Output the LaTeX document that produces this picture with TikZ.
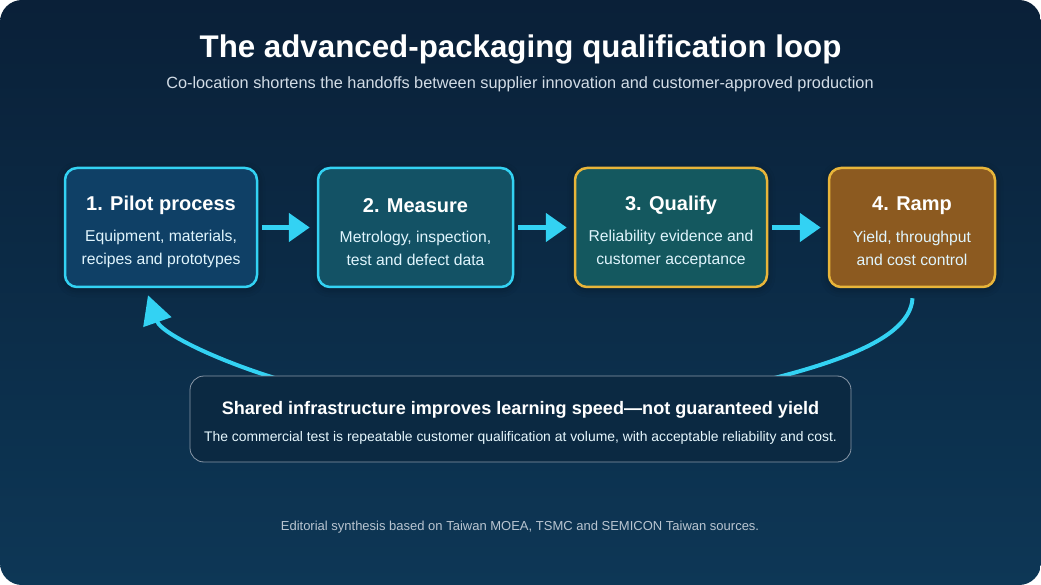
\documentclass[tikz,border=0pt]{standalone}
\usepackage{fontspec}
\setmainfont{Liberation Sans}
\usetikzlibrary{arrows.meta,shadows.blur}
\definecolor{bgtop}{HTML}{0A2038}
\definecolor{bgbot}{HTML}{0D3756}
\definecolor{cyanline}{HTML}{33D2F3}
\definecolor{goldline}{HTML}{E8B53A}
\definecolor{fillA}{HTML}{0F4066}
\definecolor{fillB}{HTML}{135265}
\definecolor{fillC}{HTML}{14585F}
\definecolor{fillD}{HTML}{8C5A20}
\definecolor{subgray}{HTML}{D2DCE6}
\definecolor{footgray}{HTML}{B9C5D1}
\definecolor{notefill}{HTML}{0B2942}
\definecolor{noteline}{HTML}{8A98A8}
\begin{document}
\begin{tikzpicture}[x=1pt,y=-1pt,
  stepbox/.style={rounded corners=12pt, line width=2.5pt, minimum height=119pt, inner sep=0pt,
    blur shadow={shadow xshift=0pt, shadow yshift=-2pt, shadow blur radius=8pt, shadow opacity=35}},
  btitle/.style={text=white, font=\fontsize{20}{24}\selectfont\bfseries},
  bbody/.style={text=white!88!cyan, align=center, font=\fontsize{15.7}{23}\selectfont},
  flow/.style={draw=cyanline, line width=5pt, -{Triangle[length=21pt,width=28pt]}},
  loopflow/.style={draw=cyanline, line width=4pt, -{Triangle[length=28.5pt,width=29pt]}}
]
\useasboundingbox (0,0) rectangle (1041,585);
\fill[white] (0,0) rectangle (1041,585);
\shade[top color=bgtop, bottom color=bgbot, rounded corners=22pt] (0,0) rectangle (1041,585);

\node[text=white, font=\fontsize{31.3}{34}\selectfont\bfseries] (title) at (520.5,49) {The advanced-packaging qualification loop};
\node[text=subgray, font=\fontsize{16.3}{19}\selectfont] (sub) at (520,84) {Co-location shortens the handoffs between supplier innovation and customer-approved production};

\node[stepbox, draw=cyanline, fill=fillA, minimum width=192pt] (b1) at (161,227.5) {};
\node[stepbox, draw=cyanline, fill=fillB, minimum width=195pt] (b2) at (415.5,227.5) {};
\node[stepbox, draw=goldline, fill=fillC, minimum width=192pt] (b3) at (671,227.5) {};
\node[stepbox, draw=goldline, fill=fillD, minimum width=166pt] (b4) at (912,227.5) {};

\node[btitle] (t1) at ([yshift=22pt]b1.center) {1. Pilot process};
\node[btitle] (t2) at ([yshift=22pt]b2.center) {2. Measure};
\node[btitle] (t3) at ([yshift=22pt]b3.center) {3. Qualify};
\node[btitle] (t4) at ([yshift=22pt]b4.center) {4. Ramp};

\node[bbody] (d1) at ([yshift=-21pt]b1.center) {Equipment, materials,\\recipes and prototypes};
\node[bbody] (d2) at ([yshift=-21pt]b2.center) {Metrology, inspection,\\test and defect data};
\node[bbody] (d3) at ([yshift=-21pt]b3.center) {Reliability evidence and\\customer acceptance};
\node[bbody] (d4) at ([yshift=-21pt]b4.center) {Yield, throughput\\and cost control};

\draw[flow] ([xshift=4pt]b1.east) -- ([xshift=-7pt]b2.west);
\draw[flow] ([xshift=4pt]b2.east) -- ([xshift=-7pt]b3.west);
\draw[flow] ([xshift=4pt]b3.east) -- ([xshift=-7pt]b4.west);

\coordinate (ls) at ([xshift=0.5pt,yshift=-10pt]b4.south);
\coordinate (le) at ([xshift=-13pt,yshift=-7pt]b1.south);
\draw[loopflow] (ls) .. controls (910,345) and (810,372) .. (700,395)
  .. controls (600,410) and (440,410) .. (340,395)
  .. controls (248,376) and (162.3,336.2) .. (le);

\node[rounded corners=14pt, draw=noteline, line width=0.8pt, fill=notefill, minimum width=661pt, minimum height=86pt] (note) at (520.5,419) {};
\node[text=white, font=\fontsize{18.1}{21}\selectfont\bfseries] (nt) at ([yshift=9.5pt]note.center) {Shared infrastructure improves learning speed\textemdash not guaranteed yield};
\node[text=white!90!cyan, font=\fontsize{13.9}{16}\selectfont] (nb) at ([yshift=-18.5pt]note.center) {The commercial test is repeatable customer qualification at volume, with acceptable reliability and cost.};

\node[text=footgray, font=\fontsize{13}{16}\selectfont] (foot) at (520,527) {Editorial synthesis based on Taiwan MOEA, TSMC and SEMICON Taiwan sources.};
\end{tikzpicture}
\end{document}
